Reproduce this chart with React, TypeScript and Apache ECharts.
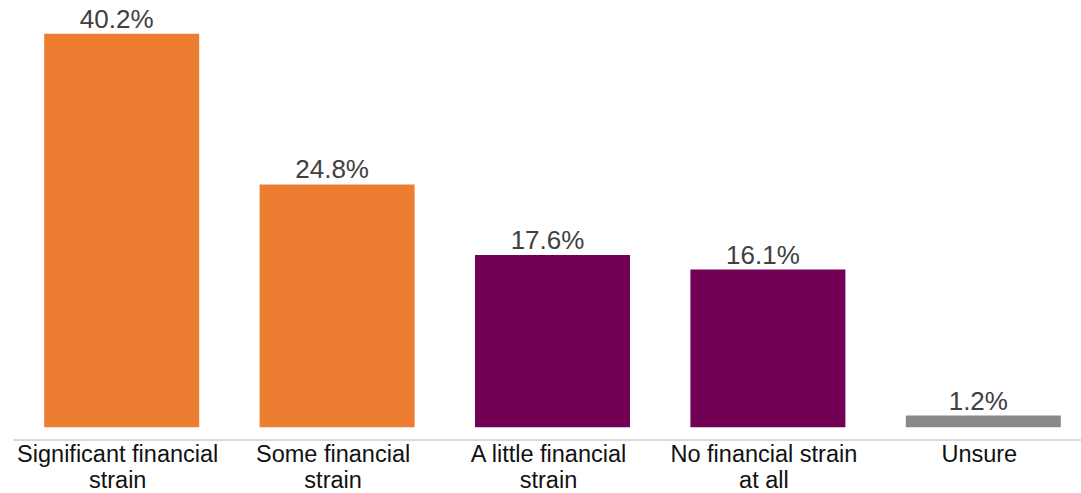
import React, { useEffect, useRef } from "react";
import * as echarts from "echarts";

const categories = [
  "Significant financial\nstrain",
  "Some financial\nstrain",
  "A little financial\nstrain",
  "No financial strain\nat all",
  "Unsure",
];
const values = [40.2, 24.8, 17.6, 16.1, 1.2];
const groups = ["strain", "strain", "little", "little", "unsure"];

const groupColors: Record<string, string> = {
  strain: "#ED7D31",
  little: "#720055",
  unsure: "#898989",
};

const FONT = "'Liberation Sans', Arial, sans-serif";

export default function App() {
  const ref = useRef<HTMLDivElement>(null);
  useEffect(() => {
    if (!ref.current) return;
    const chart = echarts.init(ref.current, undefined, { renderer: "svg" });
    chart.setOption({
      animation: false,
      backgroundColor: "#ffffff",
      textStyle: { fontFamily: FONT },
      grid: {
        left: 14,
        top: 16,
        width: 1077,
        bottom: 53,
        containLabel: false,
        outerBoundsMode: "none",
      },
      xAxis: {
        type: "category",
        data: categories,
        axisLine: { onZero: false, lineStyle: { color: "#D9D9D9", width: 2 } },
        axisTick: { show: false },
        axisLabel: {
          interval: 0,
          color: "#111111",
          fontSize: 23.5,
          lineHeight: 26,
          margin: 1,
          padding: [0, 8, 0, 0],
          fontFamily: FONT,
        },
      },
      yAxis: {
        type: "value",
        min: -1.3,
        max: 42,
        show: false,
        splitLine: { show: false },
      },
      series: [
        {
          type: "bar",
          barWidth: 155,
          data: values.map((v, i) => ({
            value: v,
            itemStyle: { color: groupColors[groups[i]] },
          })),
          label: {
            show: true,
            position: "top",
            distance: 2,
            offset: [-5, 0],
            color: "#404040",
            fontSize: 26,
            fontFamily: FONT,
            formatter: (p: any) => `${Number(p.value).toFixed(1)}%`,
          },
        },
      ],
    });
    return () => chart.dispose();
  }, []);
  return (
    <div
      ref={ref}
      style={{ position: "fixed", left: 0, top: 0, width: 1081, height: 493 }}
    />
  );
}
